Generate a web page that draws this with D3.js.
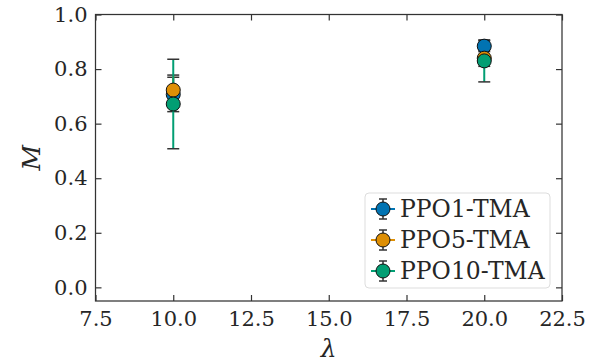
<!DOCTYPE html>
<html>
<head>
<meta charset="utf-8">
<script src="https://cdn.jsdelivr.net/npm/d3@7"></script>
<style>
  body { margin: 0; background: #fff; }
  svg text { font-family: "DejaVu Serif", serif; fill: #262626; }
</style>
</head>
<body>
<svg width="599" height="362"></svg>
<script>
// data
var series = ["PPO1-TMA", "PPO5-TMA", "PPO10-TMA"];
var colors = ["#0173b2", "#de8f05", "#029e73"];
var lambdas = [10, 20];
var means = [
  [0.707, 0.884],
  [0.723, 0.840],
  [0.672, 0.830]
];
var errs = [
  [0.063, 0.020],
  [0.055, 0.030],
  [0.164, 0.077]
];
var xTicks = [7.5, 10, 12.5, 15, 17.5, 20, 22.5];
var yTicks = [0, 0.2, 0.4, 0.6, 0.8, 1.0];

var margin = { top: 14.5, right: 37, bottom: 61, left: 95.5 };
var width = 599 - margin.left - margin.right;
var height = 362 - margin.top - margin.bottom;

var svg = d3.select("svg");
var g = svg.append("g")
  .attr("transform", "translate(" + margin.left + "," + margin.top + ")");

var x = d3.scaleLinear().domain([7.5, 22.5]).range([0, width]);
var y = d3.scaleLinear().domain([-0.05, 1.0]).range([height, 0]);

var tickLen = 6;
var ink = "#333";

function styleAxis(sel, showLabels) {
  sel.select(".domain").remove();
  sel.selectAll(".tick line").attr("stroke", ink).attr("stroke-width", 1.2);
  sel.selectAll(".tick text")
    .style("font-size", "21px")
    .attr("fill", "#262626");
  if (!showLabels) sel.selectAll(".tick text").remove();
}

// bottom / top
g.append("g")
  .attr("transform", "translate(0," + height + ")")
  .call(d3.axisBottom(x).tickValues(xTicks).tickFormat(d3.format(".1f"))
    .tickSizeInner(-tickLen).tickPadding(10))
  .call(styleAxis, true);
g.append("g")
  .call(d3.axisTop(x).tickValues(xTicks).tickSizeInner(-tickLen))
  .call(styleAxis, false);

// left / right
g.append("g")
  .call(d3.axisLeft(y).tickValues(yTicks).tickFormat(d3.format(".1f"))
    .tickSizeInner(-tickLen).tickPadding(8))
  .call(styleAxis, true);
g.append("g")
  .attr("transform", "translate(" + width + ",0)")
  .call(d3.axisRight(y).tickValues(yTicks).tickSizeInner(-tickLen))
  .call(styleAxis, false);

// frame
g.append("rect")
  .attr("width", width).attr("height", height)
  .attr("fill", "none").attr("stroke", ink).attr("stroke-width", 1.25);

// error bars and markers
var capW = 6;
series.forEach(function (name, i) {
  var grp = g.append("g");
  lambdas.forEach(function (l, j) {
    var cx = x(l), lo = y(means[i][j] - errs[i][j]), hi = y(means[i][j] + errs[i][j]);
    grp.append("line")
      .attr("x1", cx).attr("x2", cx).attr("y1", lo).attr("y2", hi)
      .attr("stroke", colors[i]).attr("stroke-width", 2);
    [lo, hi].forEach(function (yy) {
      grp.append("line")
        .attr("x1", cx - capW).attr("x2", cx + capW).attr("y1", yy).attr("y2", yy)
        .attr("stroke", ink).attr("stroke-width", 1.5);
    });
  });
});
series.forEach(function (name, i) {
  g.append("g").selectAll("circle")
    .data(lambdas)
    .enter()
    .append("circle")
    .attr("cx", function (d) { return x(d); })
    .attr("cy", function (d, j) { return y(means[i][j]); })
    .attr("r", 7)
    .attr("fill", colors[i])
    .attr("stroke", "#111")
    .attr("stroke-width", 1);
});

// legend
var lg = svg.append("g").attr("transform", "translate(365,193)");
lg.append("rect")
  .attr("width", 185).attr("height", 95).attr("rx", 4)
  .attr("fill", "#fff").attr("fill-opacity", 0.85)
  .attr("stroke", "#dddddd").attr("stroke-width", 1);
series.forEach(function (name, i) {
  var row = lg.append("g").attr("transform", "translate(0," + (16 + i * 31) + ")");
  row.append("line").attr("x1", 6).attr("x2", 30).attr("y1", 0).attr("y2", 0)
    .attr("stroke", colors[i]).attr("stroke-width", 2);
  row.append("line").attr("x1", 18).attr("x2", 18).attr("y1", -10).attr("y2", 10)
    .attr("stroke", ink).attr("stroke-width", 1.5);
  [-10, 10].forEach(function (yy) {
    row.append("line").attr("x1", 14).attr("x2", 22).attr("y1", yy).attr("y2", yy)
      .attr("stroke", ink).attr("stroke-width", 1.5);
  });
  row.append("circle").attr("cx", 18).attr("cy", 0).attr("r", 7)
    .attr("fill", colors[i]).attr("stroke", "#111").attr("stroke-width", 1);
  row.append("text").attr("x", 35).attr("y", 0).attr("dy", "0.36em")
    .style("font-size", "23.5px").text(name);
});

// axis labels
svg.append("text")
  .attr("x", margin.left + width / 2).attr("y", 357)
  .attr("text-anchor", "middle")
  .style("font-size", "25px").style("font-style", "italic")
  .text("λ");
svg.append("text")
  .attr("transform", "translate(40," + (margin.top + height / 2) + ") rotate(-90)")
  .attr("text-anchor", "middle")
  .style("font-size", "25px").style("font-style", "italic")
  .text("M");
</script>
</body>
</html>
